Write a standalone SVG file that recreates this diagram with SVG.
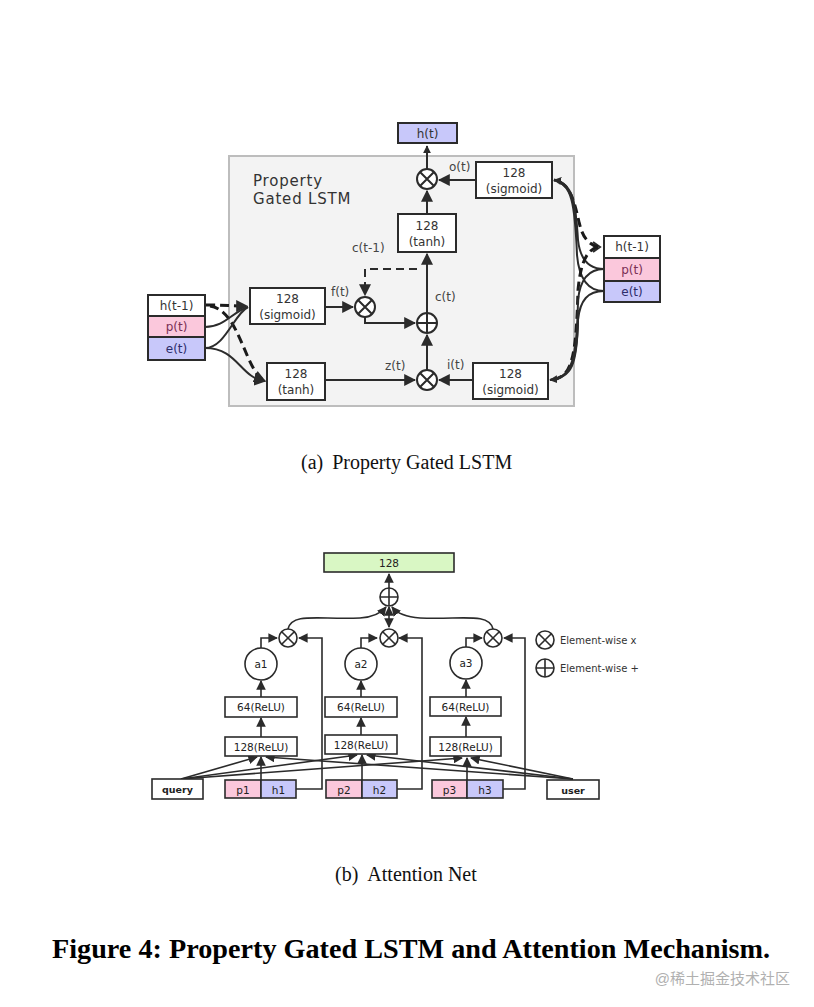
<svg xmlns="http://www.w3.org/2000/svg" width="814" height="1007" viewBox="0 0 814 1007">
<defs>
<marker id="ah" viewBox="0 0 10 10" refX="9" refY="5" markerWidth="4" markerHeight="4" orient="auto-start-reverse" markerUnits="strokeWidth"><path d="M0,0 L10,5 L0,10 z" fill="#2b2b2b"/></marker>
<marker id="as" viewBox="0 0 10 10" refX="9" refY="5" markerWidth="6" markerHeight="6" orient="auto-start-reverse" markerUnits="strokeWidth"><path d="M0,0 L10,5 L0,10 z" fill="#2b2b2b"/></marker>
<g id="mul"><circle r="10" fill="#fff" stroke="#2b2b2b" stroke-width="2"/><path d="M-7,-7 L7,7 M7,-7 L-7,7" stroke="#2b2b2b" stroke-width="2"/></g>
<g id="add"><circle r="10" fill="#fff" stroke="#2b2b2b" stroke-width="2"/><path d="M-10,0 H10 M0,-10 V10" stroke="#2b2b2b" stroke-width="2"/></g>
<g id="mul2"><circle r="9" fill="#fff" stroke="#2b2b2b" stroke-width="1.6"/><path d="M-6.3,-6.3 L6.3,6.3 M6.3,-6.3 L-6.3,6.3" stroke="#2b2b2b" stroke-width="1.6"/></g>
<g id="add2"><circle r="9" fill="#fff" stroke="#2b2b2b" stroke-width="1.6"/><path d="M-9,0 H9 M0,-9 V9" stroke="#2b2b2b" stroke-width="1.6"/></g>
</defs>
<style>
.bx{fill:#fff;stroke:#2b2b2b;stroke-width:2}
.bx2{fill:#fff;stroke:#2b2b2b;stroke-width:1.6}
.pk{fill:#fbc8dc}
.lv{fill:#c8c8fa}
.gr{fill:#d9f7c4}
.t{font-family:"DejaVu Sans",sans-serif;font-size:12px;fill:#333;text-anchor:middle}
.ts{font-family:"DejaVu Sans",sans-serif;font-size:10.5px;fill:#222;text-anchor:middle}
.tb{font-family:"DejaVu Sans",sans-serif;font-size:9.5px;font-weight:bold;fill:#222;text-anchor:middle}
.lbl{font-family:"DejaVu Sans",sans-serif;font-size:12px;fill:#444}
.ln{fill:none;stroke:#2b2b2b;stroke-width:2}
.lnt{fill:none;stroke:#2b2b2b;stroke-width:1.6}
.ds{fill:none;stroke:#2b2b2b;stroke-width:2;stroke-dasharray:8 5}
.dst{fill:none;stroke:#1a1a1a;stroke-width:3;stroke-dasharray:9 5}
.cap{font-family:"Liberation Serif",serif;font-size:20px;fill:#111}
</style>
<rect width="814" height="1007" fill="#fff"/>

<!-- Part (a) -->
<rect id="lstm-frame" x="229" y="156" width="345" height="250" fill="#f3f3f3" stroke="#bdbdbd" stroke-width="2"/>
<text x="253" y="186" font-family="DejaVu Sans,sans-serif" font-size="15" fill="#333" letter-spacing="0.8">Property</text>
<text x="253" y="204" font-family="DejaVu Sans,sans-serif" font-size="15" fill="#333" letter-spacing="0.8">Gated LSTM</text>

<g id="connectors-a">
<path class="ln" d="M427,169 V146" stroke-width="3" marker-end="url(#ah)"/>
<path class="ln" d="M427,214 V191" marker-end="url(#as)"/>
<path class="ln" d="M476,180 H439" marker-end="url(#as)"/>
<path class="ln" d="M427,313 V254" marker-end="url(#as)"/>
<path class="ds" d="M417,269 H365 V295" marker-end="url(#as)"/>
<path class="ln" d="M325,307 H353" marker-end="url(#as)"/>
<path class="ln" d="M365,317 V323 H415" marker-end="url(#as)"/>
<path class="ln" d="M325,380 H415" marker-end="url(#as)"/>
<path class="ln" d="M473,380 H439" marker-end="url(#as)"/>
<path class="ln" d="M427,370 V335" marker-end="url(#as)"/>
<!-- left inputs -->
<path class="dst" d="M206,305 C222,305 232,306 247,306" marker-end="url(#ah)"/>
<path class="dst" d="M210,306 C240,310 245,372 265,381" marker-end="url(#ah)"/>
<path class="ln" d="M205,327 C225,327 232,312 248,307"/>
<path class="ln" d="M205,348 C225,348 234,314 248,307"/>
<path class="ln" d="M205,348 C238,348 240,378 265,381" marker-end="url(#as)"/>
<!-- right inputs -->
<path class="ln" d="M593,242 L600,247 L593,252" stroke-width="3"/>
<path class="dst" d="M598,247 C584,243 581,230 579,222 C574,200 570,183 554,180"/>
<path class="ln" d="M604,269 C588,269 580,258 578,240 C576,205 572,183 554,180" stroke-width="1.6"/>
<path class="ln" d="M604,291 C588,291 579,278 577,255 C575,205 572,183 554,180" stroke-width="1.6"/>
<path class="ln" d="M577,240 C576,205 574,183 554,180" stroke-width="3" marker-end="url(#ah)"/>
<path class="dst" d="M598,247 C584,250 580,270 578,290 C576,360 572,378 550,380"/>
<path class="ln" d="M604,269 C588,269 580,280 578,300 C577,360 572,378 550,380" stroke-width="1.6"/>
<path class="ln" d="M604,291 C588,291 580,300 578,320 C577,360 572,378 550,380" stroke-width="1.6"/>
<path class="ln" d="M578,320 C577,365 572,378 550,380" stroke-width="3" marker-end="url(#ah)"/>
</g>

<g id="ht-out"><rect x="398" y="123" width="59" height="20" class="bx lv"/><text x="427.5" y="138" class="t" fill="#334">h(t)</text></g>
<g id="mul-o"><use href="#mul" x="427" y="179"/></g>
<g id="o-gate"><rect x="476" y="162" width="76" height="36" class="bx"/><text x="514" y="177" class="t">128</text><text x="514" y="193" class="t">(sigmoid)</text></g>
<text x="449" y="171" class="lbl">o(t)</text>
<g id="tanh-c"><rect x="398" y="214" width="58" height="38" class="bx"/><text x="427" y="230" class="t">128</text><text x="427" y="246" class="t">(tanh)</text></g>
<text x="352" y="252" class="lbl">c(t-1)</text>
<text x="331" y="296" class="lbl">f(t)</text>
<text x="435" y="301" class="lbl">c(t)</text>
<g id="f-gate"><rect x="250" y="288" width="75" height="36" class="bx"/><text x="287.5" y="303" class="t">128</text><text x="287.5" y="319" class="t">(sigmoid)</text></g>
<g id="mul-f"><use href="#mul" x="365" y="307"/></g>
<g id="add-c"><use href="#add" x="427" y="323"/></g>
<g id="tanh-z"><rect x="267" y="363" width="58" height="37" class="bx"/><text x="296" y="378" class="t">128</text><text x="296" y="394" class="t">(tanh)</text></g>
<text x="385" y="370" class="lbl">z(t)</text>
<text x="447" y="369" class="lbl">i(t)</text>
<g id="mul-i"><use href="#mul" x="427" y="380"/></g>
<g id="i-gate"><rect x="473" y="363" width="75" height="36" class="bx"/><text x="510.5" y="378" class="t">128</text><text x="510.5" y="394" class="t">(sigmoid)</text></g>

<g id="in-left">
<rect x="148" y="295" width="57" height="21" class="bx"/><text x="176.5" y="310" class="t">h(t-1)</text>
<rect x="148" y="316" width="57" height="21" class="bx pk"/><text x="176.5" y="331" class="t" style="fill:#7a2f55">p(t)</text>
<rect x="148" y="337" width="57" height="23" class="bx lv"/><text x="176.5" y="353" class="t" style="fill:#2d2d6a">e(t)</text>
</g>
<g id="in-right">
<rect x="604" y="236" width="56" height="22" class="bx"/><text x="632" y="251" class="t">h(t-1)</text>
<rect x="604" y="258" width="56" height="23" class="bx pk"/><text x="632" y="274" class="t" style="fill:#7a2f55">p(t)</text>
<rect x="604" y="281" width="56" height="21" class="bx lv"/><text x="632" y="296" class="t" style="fill:#2d2d6a">e(t)</text>
</g>

<text x="301" y="469" class="cap">(a)<tspan dx="9">Property Gated LSTM</tspan></text>

<!-- Part (b) -->
<g id="connectors-b">
<path class="lnt" d="M389,588 V574" marker-end="url(#as)"/>
<path class="lnt" d="M288,629 C292,612 320,620 360,618 C375,617 382,612 386,607" marker-end="url(#as)"/>
<path class="lnt" d="M493,629 C489,612 460,620 420,618 C405,617 396,612 392,607" marker-end="url(#as)"/>
<path class="lnt" d="M389,607 V627" marker-start="url(#as)" marker-end="url(#as)"/>
<path class="lnt" d="M261,648 V638 H277" marker-end="url(#as)"/>
<path class="lnt" d="M361,648 V638 H377" marker-end="url(#as)"/>
<path class="lnt" d="M466,647 V638 H482" marker-end="url(#as)"/>
<path class="lnt" d="M296,789 H322 V638 H299" marker-end="url(#as)"/>
<path class="lnt" d="M397,789 H422 V638 H399" marker-end="url(#as)"/>
<path class="lnt" d="M503,789 H525 V638 H504" marker-end="url(#as)"/>
<path class="lnt" d="M261,697 V681" marker-end="url(#as)"/>
<path class="lnt" d="M361,697 V681" marker-end="url(#as)"/>
<path class="lnt" d="M466,697 V680" marker-end="url(#as)"/>
<path class="lnt" d="M261,737 V718" marker-end="url(#as)"/>
<path class="lnt" d="M361,735 V718" marker-end="url(#as)"/>
<path class="lnt" d="M466,737 V717" marker-end="url(#as)"/>
<path class="lnt" d="M261,780 V757" marker-end="url(#as)"/>
<path class="lnt" d="M362,780 V755" marker-end="url(#as)"/>
<path class="lnt" d="M467,780 V758" marker-end="url(#as)"/>
<path class="lnt" d="M181,779 L257,757" marker-end="url(#as)"/>
<path class="lnt" d="M181,779 L357,755" marker-end="url(#as)"/>
<path class="lnt" d="M181,779 L462,758" marker-end="url(#as)"/>
<path class="lnt" d="M573,779 L266,757" marker-end="url(#as)"/>
<path class="lnt" d="M573,779 L367,755" marker-end="url(#as)"/>
<path class="lnt" d="M573,779 L471,758" marker-end="url(#as)"/>
</g>

<g id="out128"><rect x="324" y="553" width="130" height="19" class="bx2 gr"/><text x="389" y="567" class="ts">128</text></g>
<g id="sum"><use href="#add2" x="389" y="597"/></g>
<g id="m1"><use href="#mul2" x="288" y="638"/></g>
<g id="m2"><use href="#mul2" x="389" y="638"/></g>
<g id="m3"><use href="#mul2" x="493" y="638"/></g>
<g id="a1"><ellipse cx="261" cy="664" rx="16" ry="16" class="bx2"/><text x="261" y="668" class="ts">a1</text></g>
<g id="a2"><ellipse cx="361" cy="664" rx="16" ry="16" class="bx2"/><text x="361" y="668" class="ts">a2</text></g>
<g id="a3"><ellipse cx="466" cy="663" rx="16" ry="16" class="bx2"/><text x="466" y="667" class="ts">a3</text></g>
<g id="r64-1"><rect x="225" y="697" width="72" height="20" class="bx2"/><text x="261" y="711" class="ts">64(ReLU)</text></g>
<g id="r64-2"><rect x="325" y="697" width="72" height="20" class="bx2"/><text x="361" y="711" class="ts">64(ReLU)</text></g>
<g id="r64-3"><rect x="430" y="697" width="71" height="19" class="bx2"/><text x="465.5" y="711" class="ts">64(ReLU)</text></g>
<g id="r128-1"><rect x="225" y="737" width="72" height="19" class="bx2"/><text x="261" y="751" class="ts">128(ReLU)</text></g>
<g id="r128-2"><rect x="325" y="735" width="72" height="19" class="bx2"/><text x="361" y="749" class="ts">128(ReLU)</text></g>
<g id="r128-3"><rect x="430" y="737" width="71" height="19" class="bx2"/><text x="465.5" y="751" class="ts">128(ReLU)</text></g>
<g id="query"><rect x="152" y="779" width="51" height="20" class="bx2"/><text x="177.5" y="793" class="tb">query</text></g>
<g id="user"><rect x="547" y="780" width="52" height="19" class="bx2"/><text x="573" y="794" class="tb">user</text></g>
<g id="ph1"><rect x="225" y="780" width="36" height="18" class="bx2 pk"/><rect x="261" y="780" width="35" height="18" class="bx2 lv"/><text x="243" y="794" class="ts">p1</text><text x="278.5" y="794" class="ts">h1</text></g>
<g id="ph2"><rect x="326" y="780" width="36" height="18" class="bx2 pk"/><rect x="362" y="780" width="35" height="18" class="bx2 lv"/><text x="344" y="794" class="ts">p2</text><text x="379.5" y="794" class="ts">h2</text></g>
<g id="ph3"><rect x="432" y="780" width="35" height="18" class="bx2 pk"/><rect x="467" y="780" width="36" height="18" class="bx2 lv"/><text x="449.5" y="794" class="ts">p3</text><text x="485" y="794" class="ts">h3</text></g>
<g id="legend">
<use href="#mul2" x="545" y="640"/><text x="560" y="644" font-family="DejaVu Sans,sans-serif" font-size="10" fill="#333">Element-wise x</text>
<use href="#add2" x="545" y="668"/><text x="560" y="672" font-family="DejaVu Sans,sans-serif" font-size="10" fill="#333">Element-wise +</text>
</g>

<text x="335" y="881" class="cap">(b)<tspan dx="9">Attention Net</tspan></text>
<text x="411" y="958" font-family="Liberation Serif,serif" font-size="27" font-weight="bold" fill="#000" text-anchor="middle" textLength="718" lengthAdjust="spacingAndGlyphs">Figure 4: Property Gated LSTM and Attention Mechanism.</text>
<text x="790" y="984" font-family="Liberation Sans,'Noto Sans CJK SC',sans-serif" font-size="15" fill="#b0b0b0" text-anchor="end">@稀土掘金技术社区</text>
</svg>
